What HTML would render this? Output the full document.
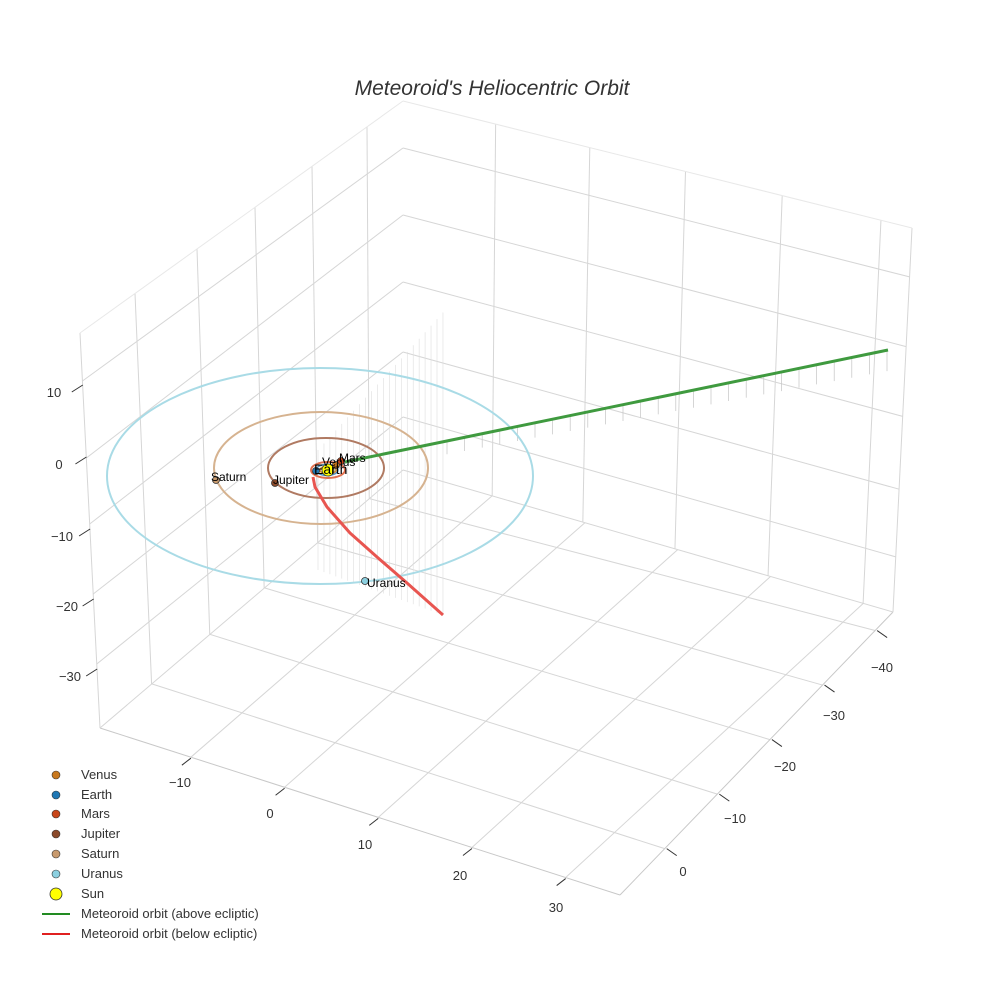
<!DOCTYPE html>
<html><head><meta charset="utf-8"><style>
html,body{margin:0;padding:0;background:#fff;}
svg{display:block;font-family:"Liberation Sans",sans-serif;}
</style></head><body>
<svg id="s" width="984" height="984" viewBox="0 0 984 984" xmlns="http://www.w3.org/2000/svg">
<rect width="984" height="984" fill="#fff"/>
<g id="grid"></g>
<g id="drops"></g>
<ellipse cx="320" cy="476" rx="213" ry="108" fill="none" stroke="#a9dbe6" stroke-width="2"/>
<ellipse cx="321" cy="468" rx="107" ry="56" fill="none" stroke="#d6b390" stroke-width="2"/>
<ellipse cx="326" cy="468" rx="58" ry="30" fill="none" stroke="#b07a62" stroke-width="2"/>
<ellipse cx="328" cy="470" rx="17" ry="8" fill="none" stroke="#e0704e" stroke-width="2"/>
<ellipse cx="327" cy="470" rx="11" ry="5.5" fill="none" stroke="#4a90c0" stroke-width="1.5"/>
<ellipse cx="328" cy="470" rx="8" ry="4" fill="none" stroke="#d08a30" stroke-width="1.5"/>
<line x1="345" y1="462" x2="888" y2="350" stroke="#3f9a3f" stroke-width="3"/>
<path d="M313 477 L315 487 L327 507 L350 533 L377 557 L407 583 L443 615" fill="none" stroke="#e85550" stroke-width="3" stroke-linejoin="round"/>
<circle cx="216" cy="480" r="3.5" fill="#c89a6e" stroke="#333" stroke-width="0.8"/>
<circle cx="275" cy="483" r="3.5" fill="#8b4a2a" stroke="#333" stroke-width="0.8"/>
<circle cx="365" cy="581" r="3.5" fill="#8cd0e0" stroke="#333" stroke-width="0.8"/>
<circle cx="316" cy="471" r="3.5" fill="#1f77b4" stroke="#333" stroke-width="0.8"/>
<circle cx="336" cy="465" r="3.5" fill="#c8781e" stroke="#333" stroke-width="0.8"/>
<circle cx="341" cy="461" r="3.5" fill="#c8461a" stroke="#333" stroke-width="0.8"/>
<circle cx="328" cy="470" r="6" fill="#ffff00" stroke="#333" stroke-width="0.8"/>
<g font-size="12" fill="#000">
<text x="211" y="481">Saturn</text>
<text x="273" y="484">Jupiter</text>
<text x="367" y="587">Uranus</text>
<text x="322" y="466">Venus</text>
<text x="339" y="462">Mars</text>
<text x="314" y="474" font-size="14">Earth</text>
</g>
<text x="492" y="95" text-anchor="middle" font-size="21" font-style="italic" fill="#333">Meteoroid's Heliocentric Orbit</text>
<g id="ticks" font-size="13" fill="#333"></g>
<g font-size="13" fill="#333">
<circle cx="56" cy="775" r="4" fill="#c8781e" stroke="#333" stroke-width="0.6"/><text x="81" y="779">Venus</text>
<circle cx="56" cy="795" r="4" fill="#1f77b4" stroke="#333" stroke-width="0.6"/><text x="81" y="799">Earth</text>
<circle cx="56" cy="814" r="4" fill="#c8461a" stroke="#333" stroke-width="0.6"/><text x="81" y="818">Mars</text>
<circle cx="56" cy="834" r="4" fill="#8b4a2a" stroke="#333" stroke-width="0.6"/><text x="81" y="838">Jupiter</text>
<circle cx="56" cy="854" r="4" fill="#c89a6e" stroke="#333" stroke-width="0.6"/><text x="81" y="858">Saturn</text>
<circle cx="56" cy="874" r="4" fill="#8cd0e0" stroke="#333" stroke-width="0.6"/><text x="81" y="878">Uranus</text>
<circle cx="56" cy="894" r="6" fill="#ffff00" stroke="#333" stroke-width="0.8"/><text x="81" y="898">Sun</text>
<line x1="42" y1="914" x2="70" y2="914" stroke="#228b22" stroke-width="2"/><text x="81" y="918">Meteoroid orbit (above ecliptic)</text>
<line x1="42" y1="934" x2="70" y2="934" stroke="#e02020" stroke-width="2"/><text x="81" y="938">Meteoroid orbit (below ecliptic)</text>
</g>
</svg>
<script>
(function(){
var NS="http://www.w3.org/2000/svg";
function L(g,x1,y1,x2,y2,c,w){var e=document.createElementNS(NS,"line");e.setAttribute("x1",x1);e.setAttribute("y1",y1);e.setAttribute("x2",x2);e.setAttribute("y2",y2);e.setAttribute("stroke",c);e.setAttribute("stroke-width",w||1);g.appendChild(e);}
function T(g,x,y,s,a){var e=document.createElementNS(NS,"text");e.setAttribute("x",x);e.setAttribute("y",y);e.setAttribute("text-anchor",a||"middle");e.textContent=s;g.appendChild(e);}
function lerp(p,q,t){return [p[0]+(q[0]-p[0])*t,p[1]+(q[1]-p[1])*t];}
var A=[100,728],B=[620,895],C=[893,612],D=[403,470],A2=[80,333],C2=[912,228],D2=[403,101];
var g=document.getElementById("grid"),gc="#d6d6d6";
[-10,0,10,20,30].forEach(function(x){var p=lerp(A,B,(x+19.7)/55.5),q=lerp(D,C,(x+19.6)/52.8);L(g,p[0],p[1],q[0],q[1],gc);});
[.182,.367,.555,.745,.939].forEach(function(t){var p=lerp(D,C,t),q=lerp(D2,C2,t);L(g,p[0],p[1],q[0],q[1],gc);});
var tls=[.171,.363,.543,.718,.889];
[0,-10,-20,-30,-40].forEach(function(y,i){var t=(8.5-y)/51.9;var p=lerp(B,C,t);var q=lerp(A,D,tls[i]);L(g,p[0],p[1],q[0],q[1],gc);});
[135,197,255,312,367].forEach(function(x){var t=(x-80)/323;var p=lerp(A,D,t),q=lerp(A2,D2,t);L(g,p[0],p[1],q[0],q[1],gc);});
var zc=[[10,148,385],[0,215,462],[-10,282,528],[-20,352,598],[-30,417,668]];
zc.forEach(function(z){var yd=z[1];var tc=(470-yd)/369;var pc=lerp(C,C2,tc);L(g,403,yd,pc[0],pc[1],gc);var ta=(z[2]-4-333)/395;var pa=lerp(A2,A,ta);L(g,pa[0],pa[1],403,yd,gc);});
var ec="#c8c8c8";
L(g,A[0],A[1],B[0],B[1],ec);L(g,B[0],B[1],C[0],C[1],ec);
L(g,A[0],A[1],D[0],D[1],gc);L(g,D[0],D[1],C[0],C[1],gc);
L(g,A2[0],A2[1],A[0],A[1],gc);L(g,C2[0],C2[1],C[0],C[1],gc);
L(g,A2[0],A2[1],D2[0],D2[1],"#e8e8e8");L(g,D2[0],D2[1],C2[0],C2[1],"#e8e8e8");
var dg=document.getElementById("drops");
for(var i=0;i<26;i++){var x=447+i*17.6;var gy=462-(x-345)*0.2063;var ey=428-(x-586)*0.189;L(dg,x,gy,x,ey,"#c4c4c4",0.7);}
for(var j=0;j<22;j++){var xx=318+j*5.95;var tp=450-(xx-318)*1.1;var bt=570+(xx-318)*0.36;
 L(dg,xx,tp,xx,bt,"#dedede",0.6);}
var tk=document.getElementById("ticks");
[[-10,180,787],[0,270,818],[10,365,849],[20,460,880],[30,556,912]].forEach(function(a){var p=lerp(A,B,(a[0]+19.7)/55.5);L(tk,p[0],p[1]+1,p[0]-9,p[1]+8,"#333");T(tk,a[1],a[2],String(a[0]).replace("-","\u2212"));});
[[0,683,876],[-10,735,823],[-20,785,771],[-30,834,720],[-40,882,672]].forEach(function(a){var p=lerp(B,C,(8.5-a[0])/51.9);L(tk,p[0]+2,p[1],p[0]+12,p[1]+7,"#333");T(tk,a[1],a[2],String(a[0]).replace("-","\u2212"));});
[[10,54,397],[0,59,469],[-10,62,541],[-20,67,611],[-30,70,681]].forEach(function(a){var ty=a[2]-9;var t=(ty-333)/395;var p=lerp(A2,A,t);L(tk,p[0],p[1]-3,p[0]-11,p[1]+4,"#333");T(tk,a[1],a[2],String(a[0]).replace("-","\u2212"));});
})();
</script>
</body></html>
